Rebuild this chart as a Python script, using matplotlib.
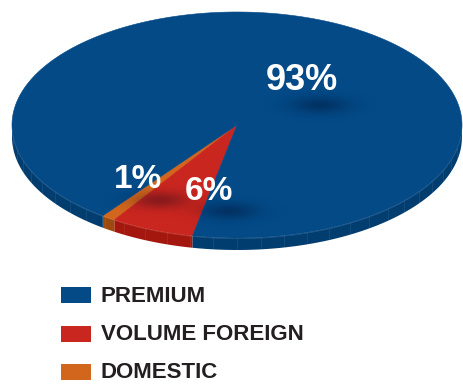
import numpy as np
import matplotlib
matplotlib.use("Agg")
import matplotlib.pyplot as plt
from matplotlib.patches import Polygon, Rectangle

# share of each segment, drawn counter-clockwise from the orange edge
labels = ["PREMIUM", "VOLUME FOREIGN", "DOMESTIC"]
shares = [93, 6, 1]
pct_text = ["93%", "6%", "1%"]

top_cols = ["#034a87", "#c9261f", "#d2661c"]
side_cols = ["#023d70", "#a3170f", "#9c4a0e"]

W, H = 463, 384
cx, cy = 237, 125      # pie centre (pixels)
a, b = 225, 113        # ellipse radii
depth = 12
start = 233.4          # angle where DOMESTIC begins

fig = plt.figure(figsize=(W / 100, H / 100), dpi=100)
ax = fig.add_axes([0, 0, 1, 1])
ax.set_xlim(0, W)
ax.set_ylim(H, 0)
ax.axis("off")


def pt(th, dz=0.0):
    r = np.radians(th)
    return cx + a * np.cos(r), cy - b * np.sin(r) + dz


# angle spans: orange, red, blue going ccw
order = [2, 1, 0]
spans = {}
ang = start
for i in order:
    sweep = shares[i] / 100 * 360
    spans[i] = (ang, ang + sweep)
    ang += sweep

# side wall (only front half is visible)
for i in order:
    t1, t2 = spans[i]
    for off in (0, 360, -360):
        lo = max(t1 + off, 180)
        hi = min(t2 + off, 360)
        if hi <= lo:
            continue
        th = np.linspace(lo, hi, 60)
        upper = [pt(t) for t in th]
        lower = [pt(t, depth) for t in th[::-1]]
        ax.add_patch(Polygon(upper + lower, closed=True, fc=side_cols[i], ec="none", zorder=1))
        # faint facet lines on the wall
        for t in np.arange(np.ceil(lo / 6) * 6, hi, 6):
            x0, y0 = pt(t)
            ax.plot([x0, x0], [y0, y0 + depth], color="white", alpha=0.1, lw=0.5, zorder=1.5)

# thin light rim along the top edge of the wall
th = np.linspace(180, 360, 200)
rim = np.array([pt(t) for t in th])
ax.plot(rim[:, 0], rim[:, 1] + 0.6, color="white", alpha=0.15, lw=0.6, zorder=1.6)

# top face
for i in order:
    t1, t2 = spans[i]
    th = np.linspace(t1, t2, max(int(t2 - t1) * 2, 8))
    verts = [(cx, cy)] + [pt(t) for t in th]
    ax.add_patch(Polygon(verts, closed=True, fc=top_cols[i], ec=top_cols[i], lw=0.4, zorder=2))


def soft_shadow(x, y, sx, sy, alpha):
    gx = np.linspace(-3, 3, 90)
    gy = np.linspace(-3, 3, 60)
    X, Y = np.meshgrid(gx, gy)
    g = np.exp(-(X ** 2 + Y ** 2) / 2)
    img = np.zeros((60, 90, 4))
    img[..., 3] = g * alpha
    img[..., 2] = 0.1
    ax.imshow(img, extent=(x - 3 * sx, x + 3 * sx, y + 3 * sy, y - 3 * sy),
              interpolation="bilinear", zorder=3, aspect="auto")


# percentage labels with their soft drop shadows
lab_pos = [(302, 81), (209, 191), (138, 180)]
lab_size = [26, 24, 24]
shadow_off = [(18, 24), (20, 20), (22, 20)]
for i in range(3):
    x, y = lab_pos[i]
    dx, dy = shadow_off[i]
    soft_shadow(x + dx, y + dy, 20, 6, 0.32)
for i in range(3):
    x, y = lab_pos[i]
    ax.text(x, y, pct_text[i], color="white", fontsize=lab_size[i], fontweight="bold",
            family="Liberation Sans", ha="center", va="center", zorder=4)

ax.set_xlim(0, W)
ax.set_ylim(H, 0)

# legend
rows = [295, 334, 372]
for i in range(3):
    ax.add_patch(Rectangle((61, rows[i] - 8), 30, 16, fc=top_cols[i], ec="none"))
    ax.text(101, rows[i] + 1, labels[i], fontsize=16, fontweight="bold",
            family="Liberation Sans", color="#231f20", ha="left", va="center")

fig.savefig("out.png", dpi=100)
